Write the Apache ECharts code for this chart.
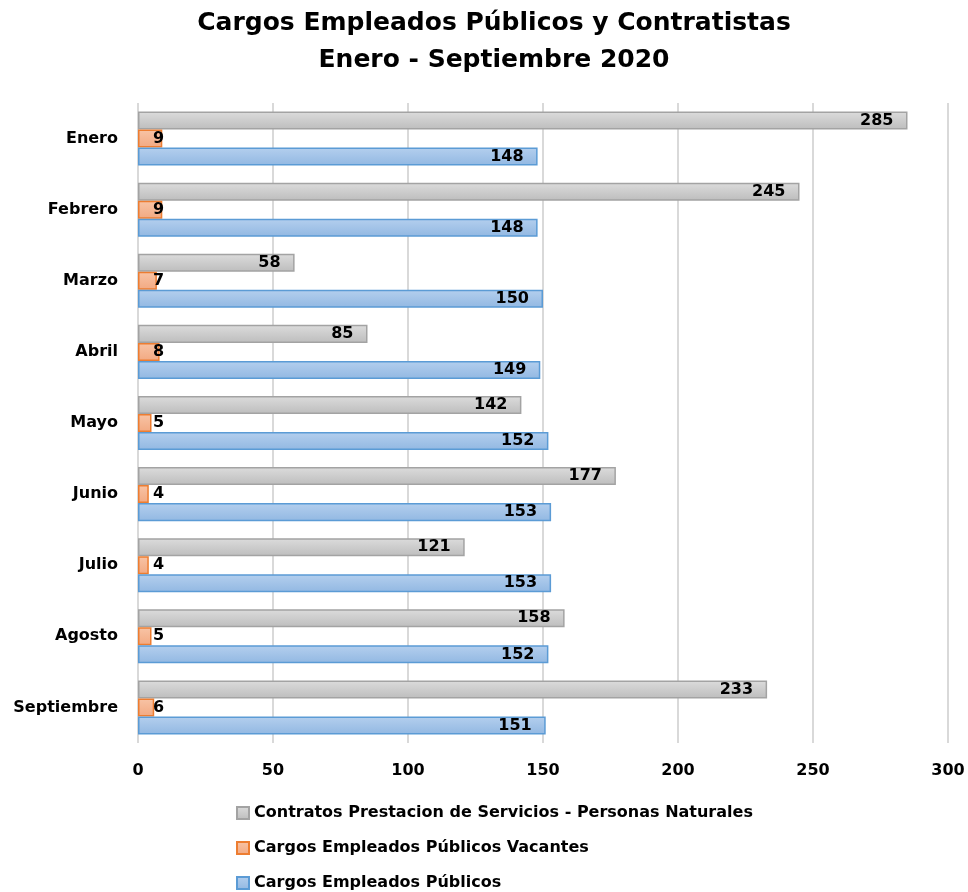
<!DOCTYPE html>
<html>
<head>
<meta charset="utf-8">
<script src="https://cdn.jsdelivr.net/npm/echarts@6/dist/echarts.min.js"></script>
<style>
  html, body { margin: 0; padding: 0; background: #fff; }
  #chart { width: 968px; height: 892px; }
</style>
</head>
<body>
<div id="chart"></div>
<script>
const months = ["Enero", "Febrero", "Marzo", "Abril", "Mayo", "Junio", "Julio", "Agosto", "Septiembre"];
const contratos = [285, 245, 58, 85, 142, 177, 121, 158, 233];
const vacantes = [9, 9, 7, 8, 5, 4, 4, 5, 6];
const publicos = [148, 148, 150, 149, 152, 153, 153, 152, 151];
const xTicks = [0, 50, 100, 150, 200, 250, 300];

const font = "'DejaVu Sans', Verdana, sans-serif";

function grad(top, bottom) {
  return new echarts.graphic.LinearGradient(0, 0, 0, 1, [
    { offset: 0, color: top },
    { offset: 1, color: bottom },
  ]);
}

const labelStyle = {
  show: true,
  color: "#000",
  fontFamily: font,
  fontWeight: "bold",
  fontSize: 16,
};

const chart = echarts.init(document.getElementById("chart"), null, { renderer: "canvas" });

chart.setOption({
  animation: false,
  backgroundColor: "#fff",
  title: {
    text: "Cargos Empleados Públicos y Contratistas\nEnero - Septiembre 2020",
    left: 494,
    textAlign: "center",
    top: 5,
    padding: 0,
    textStyle: {
      fontFamily: font,
      fontWeight: "bold",
      fontSize: 25,
      lineHeight: 37,
      color: "#000",
    },
  },
  legend: {
    orient: "vertical",
    left: 236,
    top: 805,
    height: 120,
    padding: 0,
    itemWidth: 12,
    itemHeight: 12,
    itemGap: 19,
    icon: "rect",
    textStyle: {
      fontFamily: font,
      fontWeight: "bold",
      fontSize: 16,
      color: "#000",
    },
    data: [
      "Contratos Prestacion de Servicios - Personas Naturales",
      "Cargos Empleados Públicos Vacantes",
      "Cargos Empleados Públicos",
    ],
  },
  grid: { left: 138, right: 20, top: 103, bottom: 149 },
  xAxis: {
    type: "value",
    min: 0,
    max: 300,
    interval: 50,
    axisLine: { show: false },
    axisTick: { show: false },
    splitLine: { lineStyle: { color: "#d9d9d9", width: 2 } },
    axisLabel: {
      color: "#000",
      fontFamily: font,
      fontWeight: "bold",
      fontSize: 16,
      margin: 20,
      formatter: (v) => (xTicks.includes(v) ? String(v) : ""),
    },
  },
  yAxis: {
    type: "category",
    data: months,
    inverse: true,
    axisLine: { show: false },
    axisTick: { show: false },
    axisLabel: {
      color: "#000",
      fontFamily: font,
      fontWeight: "bold",
      fontSize: 16,
      margin: 20,
    },
  },
  series: [
    {
      name: "Contratos Prestacion de Servicios - Personas Naturales",
      type: "bar",
      data: contratos,
      barGap: "0%",
      barCategoryGap: "24%",
      itemStyle: {
        color: grad("#dcdcdc", "#bdbdbd"),
        borderColor: "#a3a3a3",
        borderWidth: 1.5,
      },
      label: { ...labelStyle, position: "insideRight", distance: 14 },
    },
    {
      name: "Cargos Empleados Públicos Vacantes",
      type: "bar",
      data: vacantes,
      barGap: "0%",
      barCategoryGap: "24%",
      itemStyle: {
        color: grad("#f8c4a6", "#f2a982"),
        borderColor: "#ed7d31",
        borderWidth: 1.5,
      },
      label: { ...labelStyle, position: "insideLeft", distance: 15 },
    },
    {
      name: "Cargos Empleados Públicos",
      type: "bar",
      data: publicos,
      barGap: "0%",
      barCategoryGap: "24%",
      itemStyle: {
        color: grad("#b4cfee", "#92b8e2"),
        borderColor: "#5b9bd5",
        borderWidth: 1.5,
      },
      label: { ...labelStyle, position: "insideRight", distance: 14 },
    },
  ],
});
</script>
</body>
</html>
